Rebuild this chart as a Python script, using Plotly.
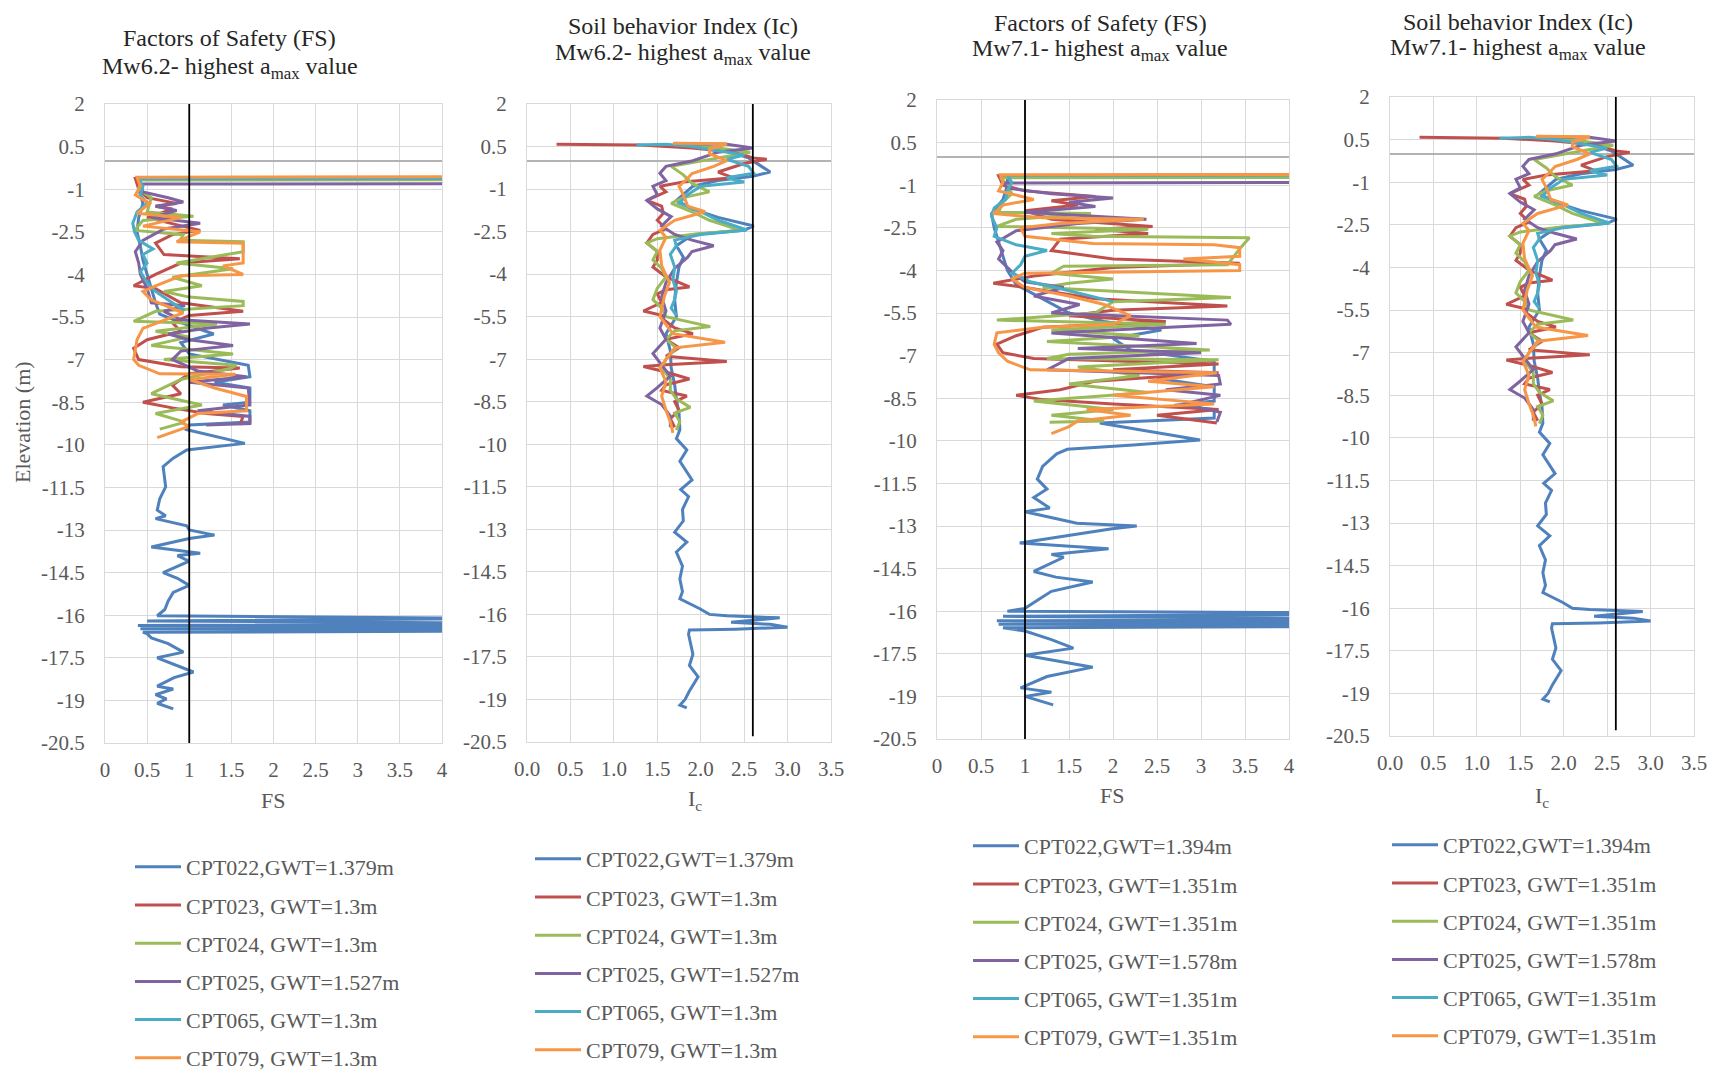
import plotly.graph_objects as go

W, H = 1719, 1070
PAGE_OFF = 8                      # browser default body margin
FIG_W, FIG_H = W - PAGE_OFF, H - PAGE_OFF
FONT = "Liberation Serif"

# ---------------- data ----------------
SERIES_COLORS = ["#4F81BD", "#C0504D", "#9BBB59", "#8064A2", "#4BACC6", "#F79646"]

LEGEND_MW62 = ["CPT022,GWT=1.379m", "CPT023, GWT=1.3m", "CPT024, GWT=1.3m",
               "CPT025, GWT=1.527m", "CPT065, GWT=1.3m", "CPT079, GWT=1.3m"]
LEGEND_MW71 = ["CPT022,GWT=1.394m", "CPT023, GWT=1.351m", "CPT024, GWT=1.351m",
               "CPT025, GWT=1.578m", "CPT065, GWT=1.351m", "CPT079, GWT=1.351m"]

Y_TICKS = [2, 0.5, -1, -2.5, -4, -5.5, -7, -8.5, -10, -11.5, -13, -14.5, -16, -17.5, -19, -20.5]
Y_TICK_TEXT = ["2", "0.5", "-1", "-2.5", "-4", "-5.5", "-7", "-8.5", "-10", "-11.5",
               "-13", "-14.5", "-16", "-17.5", "-19", "-20.5"]
FS_TICKS = [0, 0.5, 1, 1.5, 2, 2.5, 3, 3.5, 4]
FS_TICK_TEXT = ["0", "0.5", "1", "1.5", "2", "2.5", "3", "3.5", "4"]
IC_TICKS = [0, 0.5, 1, 1.5, 2, 2.5, 3, 3.5]
IC_TICK_TEXT = ["0.0", "0.5", "1.0", "1.5", "2.0", "2.5", "3.0", "3.5"]

FS_LIMIT = 1.0
IC_LIMIT = 2.6
ELEV_RANGE = [-20.5, 2]

# (elevation m, FS) -- Mw6.2
FS62_CPT022 = [(0.6, 5), (-0.6, 5), (-0.62, 0.42), (-1.0, 0.4), (-1.5, 0.45), (-2.0, 0.4), (-2.5, 0.38),
               (-3.0, 0.42), (-3.5, 0.45), (-4.0, 0.5), (-4.5, 0.55), (-5.0, 0.6), (-5.4, 0.65), (-5.7, 0.9),
               (-6.1, 1.29), (-6.4, 0.9), (-6.8, 1.0), (-7.2, 1.7), (-7.6, 1.72), (-7.8, 1.3), (-8.0, 1.72),
               (-8.5, 1.72), (-8.6, 1.4), (-8.8, 1.72), (-9.2, 1.72), (-9.3, 1.0), (-9.45, 0.95), (-9.7, 1.3),
               (-9.95, 1.66), (-10.18, 0.97), (-10.47, 0.81), (-10.77, 0.69), (-11.1, 0.7), (-11.48, 0.72),
               (-11.9, 0.65), (-12.3, 0.62), (-12.5, 0.72), (-12.6, 0.6), (-12.85, 0.97), (-13.0, 1.0),
               (-13.18, 1.3), (-13.3, 1.0), (-13.6, 0.55), (-13.82, 1.13), (-13.9, 0.86), (-14.1, 1.0),
               (-14.5, 0.69), (-14.7, 0.86), (-14.95, 1.0), (-15.2, 0.81), (-15.5, 0.75), (-15.8, 0.71),
               (-16.02, 0.62), (-16.1, 5), (-16.12, 5), (-16.2, 0.5), (-16.28, 5), (-16.32, 5), (-16.36, 0.39),
               (-16.4, 5), (-16.44, 5), (-16.48, 0.42), (-16.52, 5), (-16.56, 5), (-16.6, 0.45),
               (-16.65, 0.5), (-16.8, 0.55), (-17.0, 0.75),
               (-17.3, 0.93), (-17.5, 0.62), (-17.7, 0.8), (-18.0, 1.05), (-18.2, 0.82), (-18.5, 0.62),
               (-18.6, 0.81), (-18.8, 0.6), (-18.95, 0.73), (-19.1, 0.62), (-19.3, 0.81)]
FS62_CPT023 = [(0.6, 5), (-0.6, 5), (-0.62, 0.36), (-1.0, 0.4), (-1.3, 0.5), (-1.5, 0.85), (-1.6, 0.6),
               (-1.7, 0.8), (-2.0, 0.5), (-2.3, 0.9), (-2.45, 1.13), (-2.6, 0.8), (-2.9, 0.6), (-3.3, 0.7),
               (-3.45, 1.6), (-3.6, 0.9), (-4.0, 0.6), (-4.4, 0.34), (-4.5, 0.6), (-5.0, 0.9), (-5.3, 1.64),
               (-5.45, 1.0), (-5.7, 0.8), (-6.0, 0.9), (-6.3, 0.5), (-6.6, 0.34), (-7.0, 0.4), (-7.25, 0.9),
               (-7.3, 1.6), (-7.5, 1.0), (-7.9, 0.8), (-8.2, 0.9), (-8.5, 0.45), (-8.7, 0.8), (-8.9, 1.2),
               (-9.0, 1.64), (-9.3, 1.6)]
FS62_CPT024 = [(0.6, 5), (-0.66, 5), (-0.68, 0.42), (-1.0, 0.4), (-1.3, 0.55), (-1.8, 0.5), (-1.95, 1.05),
               (-2.1, 0.45), (-2.45, 0.35), (-2.6, 0.93), (-2.8, 0.89), (-2.85, 1.64), (-3.2, 1.64), (-3.6, 0.85),
               (-3.8, 1.52), (-4.1, 0.8), (-4.4, 1.15), (-4.6, 0.7), (-4.8, 1.0), (-4.95, 1.64), (-5.1, 1.64),
               (-5.3, 0.6), (-5.65, 0.34), (-5.75, 1.33), (-6.0, 0.6), (-6.2, 1.0), (-6.5, 0.55), (-6.8, 1.52),
               (-7.0, 0.7), (-7.2, 1.56), (-7.3, 1.5), (-7.7, 0.9), (-8.2, 0.55), (-8.6, 1.15), (-8.9, 0.6),
               (-9.2, 0.95), (-9.45, 0.65)]
FS62_CPT025 = [(0.6, 5), (-0.8, 5), (-0.82, 0.42), (-1.1, 0.45), (-1.3, 0.75), (-1.45, 0.93), (-1.6, 0.6),
               (-1.75, 0.85), (-2.0, 0.55), (-2.2, 1.13), (-2.4, 0.7), (-2.8, 0.45), (-3.2, 0.36), (-3.6, 0.4),
               (-4.0, 0.42), (-4.5, 0.5), (-5.0, 0.55), (-5.1, 0.95), (-5.3, 0.7), (-5.6, 0.9), (-5.75, 1.72),
               (-5.9, 1.2), (-6.1, 0.75), (-6.3, 1.0), (-6.5, 1.52), (-6.7, 0.9), (-7.0, 0.8), (-7.4, 1.1),
               (-7.6, 1.68), (-7.8, 1.0), (-8.0, 1.7), (-8.6, 1.72), (-8.8, 1.1), (-9.0, 1.72), (-9.25, 1.72),
               (-9.3, 1.2)]
FS62_CPT065 = [(0.6, 5), (-0.62, 5), (-0.64, 0.4), (-0.9, 0.45), (-1.2, 0.42), (-1.5, 0.5), (-1.8, 0.38),
               (-2.2, 0.33), (-2.5, 0.35), (-2.8, 0.4), (-3.1, 0.57), (-3.3, 0.45), (-3.6, 0.5), (-3.9, 0.42),
               (-4.3, 0.5), (-4.6, 0.6), (-4.9, 0.75), (-5.1, 0.85), (-5.25, 0.93), (-5.4, 0.9)]
FS62_CPT079 = [(0.6, 5), (-0.56, 5), (-0.58, 0.38), (-0.9, 0.42), (-1.2, 0.36), (-1.5, 0.53), (-1.85, 0.38),
               (-2.0, 0.9), (-2.3, 0.45), (-2.5, 1.13), (-2.85, 0.85), (-2.9, 1.64), (-3.6, 1.64), (-3.7, 1.4),
               (-4.0, 1.64), (-4.05, 0.9), (-4.4, 0.6), (-4.6, 0.45), (-4.9, 0.55), (-5.35, 0.93), (-5.9, 0.45),
               (-6.3, 0.38), (-7.0, 0.34), (-7.2, 0.4), (-7.5, 0.65), (-7.52, 1.55), (-7.7, 1.0), (-8.0, 1.3),
               (-8.3, 1.68), (-8.8, 1.68), (-8.9, 1.1), (-9.2, 0.9), (-9.35, 1.0), (-9.75, 0.62)]

# (elevation m, FS) -- Mw7.1
FS71_CPT022 = [(0.6, 5), (-0.64, 5), (-0.66, 0.8), (-1.0, 0.8), (-1.5, 0.75), (-2.0, 0.62), (-2.5, 0.65),
               (-3.0, 0.7), (-3.5, 0.75), (-4.0, 0.8), (-4.5, 0.9), (-5.0, 1.2), (-5.5, 1.5), (-5.8, 1.9),
               (-6.1, 2.55), (-6.4, 2.0), (-6.8, 2.2), (-7.2, 3.15), (-7.6, 3.15), (-7.8, 2.5), (-8.1, 3.15),
               (-8.6, 3.15), (-8.75, 2.7), (-8.9, 3.15), (-9.2, 3.15), (-9.37, 1.85), (-9.6, 2.3), (-9.97, 2.99),
               (-10.15, 2.23), (-10.3, 1.48), (-10.46, 1.36), (-10.9, 1.2), (-11.35, 1.14), (-11.7, 1.25),
               (-12.0, 1.1), (-12.37, 1.28), (-12.5, 1.0), (-12.9, 1.59), (-13.0, 2.27), (-13.1, 1.99),
               (-13.6, 0.94), (-13.8, 1.95), (-14.0, 1.3), (-14.1, 1.44), (-14.6, 1.1), (-14.8, 1.35),
               (-14.97, 1.77), (-15.3, 1.3), (-15.6, 1.15), (-15.9, 1.0), (-16.0, 0.8), (-16.06, 5),
               (-16.1, 5), (-16.18, 0.75), (-16.26, 5), (-16.3, 5), (-16.34, 0.68), (-16.38, 5), (-16.42, 5),
               (-16.46, 0.7), (-16.5, 5), (-16.54, 5), (-16.58, 0.75),
               (-16.7, 1.0), (-17.0, 1.3), (-17.3, 1.55), (-17.55, 1.0), (-17.97, 1.77),
               (-18.3, 1.25), (-18.7, 0.95), (-18.85, 1.3), (-19.0, 1.0), (-19.3, 1.32)]
FS71_CPT023 = [(0.6, 5), (-0.65, 5), (-0.67, 0.7), (-1.0, 0.75), (-1.2, 1.0), (-1.4, 1.8), (-1.55, 1.3),
               (-1.7, 1.6), (-1.9, 1.0), (-2.2, 1.3), (-2.45, 2.45), (-2.55, 1.8), (-2.7, 2.4), (-2.9, 1.4),
               (-3.3, 1.3), (-3.6, 2.0), (-3.75, 3.44), (-3.9, 2.0), (-4.2, 1.1), (-4.45, 0.64), (-4.6, 1.0),
               (-5.0, 1.8), (-5.25, 3.3), (-5.4, 2.0), (-5.6, 1.5), (-5.8, 2.6), (-6.0, 1.2), (-6.3, 0.9),
               (-6.6, 0.68), (-6.9, 0.75), (-7.1, 1.1), (-7.3, 3.2), (-7.5, 2.0), (-7.6, 3.2), (-7.9, 1.8),
               (-8.2, 1.4), (-8.4, 0.9), (-8.55, 1.2), (-8.7, 2.0), (-8.9, 3.2), (-9.1, 2.5), (-9.37, 3.18)]
FS71_CPT024 = [(0.6, 5), (-0.72, 5), (-0.74, 0.72), (-1.0, 0.8), (-1.3, 0.85), (-1.6, 0.75), (-1.95, 0.7),
               (-2.0, 1.75), (-2.2, 0.9), (-2.45, 0.68), (-2.55, 2.4), (-2.7, 1.3), (-2.8, 1.77), (-2.85, 3.55),
               (-3.2, 3.45), (-3.6, 3.35), (-3.8, 3.3), (-3.85, 1.44), (-4.1, 1.3), (-4.3, 2.0), (-4.45, 1.5),
               (-4.6, 1.2), (-4.95, 3.34), (-5.1, 2.0), (-5.5, 1.8), (-5.75, 0.68), (-5.9, 2.6), (-6.1, 1.3),
               (-6.3, 2.3), (-6.5, 1.25), (-6.8, 3.1), (-6.95, 1.5), (-7.1, 1.25), (-7.15, 3.2), (-7.4, 1.6),
               (-7.7, 2.3), (-8.0, 1.5), (-8.3, 2.4), (-8.6, 1.1), (-8.9, 2.0), (-9.1, 1.3), (-9.3, 1.9),
               (-9.35, 1.28)]
FS71_CPT025 = [(0.6, 5), (-0.9, 5), (-0.92, 0.75), (-1.1, 0.8), (-1.3, 1.3), (-1.45, 2.0), (-1.6, 1.5),
               (-1.75, 1.8), (-1.95, 1.0), (-2.2, 2.38), (-2.35, 1.6), (-2.6, 0.9), (-3.0, 0.68), (-3.3, 0.75),
               (-3.6, 0.7), (-4.1, 0.87), (-4.4, 1.0), (-4.6, 1.44), (-4.9, 1.1), (-5.2, 1.62), (-5.5, 1.3),
               (-5.75, 3.3), (-5.9, 3.34), (-6.1, 2.0), (-6.2, 1.3), (-6.57, 2.95), (-6.75, 1.6), (-6.9, 3.0),
               (-7.1, 1.5), (-7.5, 1.25), (-7.7, 3.2), (-8.0, 3.22), (-8.2, 2.6), (-8.4, 3.22), (-8.7, 2.8),
               (-9.0, 3.22), (-9.34, 3.18)]
FS71_CPT065 = [(0.6, 5), (-0.64, 5), (-0.66, 0.8), (-0.9, 0.85), (-1.2, 0.8), (-1.5, 0.78), (-1.8, 0.65),
               (-2.1, 0.62), (-2.5, 0.68), (-2.8, 0.65), (-3.1, 0.9), (-3.3, 1.25), (-3.5, 1.0), (-3.8, 0.95),
               (-4.1, 0.85), (-4.4, 1.06), (-4.6, 1.35), (-4.8, 1.6), (-4.95, 1.8), (-5.1, 2.0)]
FS71_CPT079 = [(0.6, 5), (-0.62, 5), (-0.63, 0.72), (-0.9, 0.75), (-1.2, 0.7), (-1.5, 1.1), (-1.7, 0.75),
               (-2.0, 0.64), (-2.15, 1.2), (-2.2, 2.35), (-2.35, 1.4), (-2.5, 0.95), (-2.8, 1.0), (-3.05, 1.77),
               (-3.1, 3.15), (-3.2, 3.44), (-3.5, 3.44), (-3.6, 2.8), (-3.8, 3.44), (-4.0, 3.44), (-4.1, 1.0),
               (-4.3, 0.85), (-4.6, 1.0), (-4.9, 1.5), (-5.2, 1.9), (-5.6, 2.2), (-5.9, 2.0), (-6.0, 1.2),
               (-6.2, 0.68), (-6.6, 0.65), (-6.9, 0.7), (-7.2, 0.8), (-7.5, 1.06), (-7.6, 3.18), (-7.9, 2.4),
               (-8.1, 3.15), (-8.4, 2.0), (-8.7, 3.15), (-8.9, 1.7), (-9.1, 2.2), (-9.3, 1.6), (-9.5, 1.5),
               (-9.75, 1.3)]

# (elevation m, Ic)
IC_CPT022 = [(0.62, 1.72), (0.45, 2.2), (0.2, 2.45), (0.1, 2.55), (-0.2, 2.7), (-0.4, 2.8), (-0.55, 2.6),
             (-0.7, 2.2), (-0.9, 1.91), (-1.2, 1.8), (-1.4, 1.72), (-1.7, 1.9), (-2.0, 2.2), (-2.3, 2.61),
             (-2.45, 2.5), (-2.6, 1.91), (-3.0, 1.72), (-3.4, 1.8), (-3.75, 1.75), (-4.3, 1.72), (-4.9, 1.7),
             (-5.5, 1.72), (-6.1, 1.6), (-6.7, 1.65), (-7.3, 1.66), (-7.9, 1.7), (-8.4, 1.72), (-8.9, 1.75),
             (-9.49, 1.76), (-9.8, 1.72), (-10.2, 1.84), (-10.6, 1.76), (-10.9, 1.82), (-11.26, 1.9),
             (-11.6, 1.77), (-11.85, 1.86), (-12.3, 1.79), (-12.7, 1.8), (-13.1, 1.7), (-13.45, 1.84),
             (-13.8, 1.72), (-14.3, 1.79), (-14.75, 1.76), (-15.2, 1.79), (-15.45, 1.76), (-15.8, 1.99),
             (-16.0, 2.1), (-16.05, 2.3), (-16.12, 2.91), (-16.2, 2.6), (-16.28, 2.35), (-16.35, 2.8),
             (-16.45, 3.0), (-16.52, 2.4), (-16.55, 1.87), (-16.7, 1.86), (-17.0, 1.88), (-17.4, 1.91),
             (-17.8, 1.87), (-18.2, 1.97), (-18.7, 1.87), (-19.0, 1.82), (-19.2, 1.76), (-19.3, 1.84)]
IC_CPT023 = [(0.58, 0.34), (0.55, 1.3), (0.45, 1.9), (0.3, 2.4), (0.1, 2.6), (0.05, 2.76), (-0.1, 2.5),
             (-0.4, 2.2), (-0.6, 2.37), (-0.75, 1.8), (-0.9, 1.53), (-1.1, 1.6), (-1.4, 1.38), (-1.6, 1.55),
             (-1.85, 1.57), (-2.1, 1.5), (-2.4, 1.6), (-2.6, 1.45), (-2.9, 1.38), (-3.2, 1.5), (-3.5, 1.5),
             (-3.75, 1.45), (-4.1, 1.6), (-4.45, 1.87), (-4.55, 1.6), (-4.7, 1.5), (-5.0, 1.55), (-5.3, 1.34),
             (-5.45, 1.55), (-5.6, 1.57), (-5.9, 1.7), (-6.1, 1.91), (-6.3, 1.6), (-6.6, 1.75), (-6.9, 1.6),
             (-7.08, 2.3), (-7.2, 1.6), (-7.26, 1.34), (-7.45, 1.6), (-7.7, 1.87), (-7.9, 1.6), (-8.1, 1.55),
             (-8.3, 1.84), (-8.5, 1.7), (-8.8, 1.75), (-9.1, 1.65), (-9.4, 1.7)]
IC_CPT024 = [(0.6, 1.72), (0.45, 2.2), (0.3, 2.57), (0.1, 2.2), (-0.2, 1.66), (-0.5, 1.8), (-0.8, 1.9),
             (-1.1, 2.1), (-1.3, 1.8), (-1.5, 1.66), (-1.8, 1.9), (-2.1, 2.1), (-2.45, 2.45), (-2.6, 1.9),
             (-2.75, 1.5), (-2.9, 1.38), (-3.2, 1.5), (-3.5, 1.45), (-3.8, 1.55), (-4.1, 1.6), (-4.5, 1.5),
             (-4.9, 1.45), (-5.2, 1.55), (-5.5, 1.6), (-5.85, 2.11), (-6.0, 1.7), (-6.3, 1.6), (-6.6, 1.72),
             (-7.0, 1.6), (-7.3, 1.55), (-7.7, 1.65), (-8.1, 1.65), (-8.4, 1.72), (-8.7, 1.88), (-8.9, 1.7),
             (-9.2, 1.76), (-9.5, 1.72)]
IC_CPT025 = [(0.6, 1.8), (0.58, 2.3), (0.45, 2.6), (0.3, 2.2), (0.0, 1.91), (-0.2, 1.6), (-0.44, 1.53),
             (-0.7, 1.6), (-0.9, 1.45), (-1.2, 1.5), (-1.4, 1.38), (-1.7, 1.5), (-1.97, 1.66), (-2.3, 1.55),
             (-2.6, 1.7), (-2.8, 1.9), (-3.0, 2.15), (-3.2, 1.9), (-3.4, 1.85), (-3.8, 1.7), (-4.3, 1.6),
             (-4.8, 1.55), (-5.3, 1.6), (-5.9, 1.53), (-6.3, 1.6), (-6.8, 1.45), (-7.2, 1.55), (-7.6, 1.65),
             (-8.0, 1.5), (-8.3, 1.38), (-8.6, 1.55), (-9.0, 1.65), (-9.4, 1.65)]
IC_CPT065 = [(0.55, 1.26), (0.58, 1.6), (0.5, 1.9), (0.35, 2.2), (0.2, 2.5), (0.05, 2.3), (-0.2, 2.55),
             (-0.44, 2.61), (-0.6, 2.3), (-0.75, 2.5), (-0.9, 2.0), (-1.2, 1.85), (-1.5, 1.75), (-1.8, 2.0),
             (-2.1, 2.2), (-2.44, 2.53), (-2.6, 2.0), (-2.8, 1.7), (-3.0, 1.72), (-3.3, 1.65), (-3.75, 1.7),
             (-4.2, 1.68), (-4.6, 1.72), (-4.9, 1.7), (-5.2, 1.66), (-5.45, 1.72)]
IC_CPT079 = [(0.62, 1.68), (0.6, 2.3), (0.4, 2.1), (0.25, 2.1), (0.0, 2.3), (-0.2, 2.15), (-0.45, 1.9),
             (-0.65, 1.84), (-0.9, 1.75), (-1.2, 1.8), (-1.6, 1.85), (-1.8, 2.05), (-2.1, 1.7), (-2.45, 1.53),
             (-2.7, 1.6), (-3.15, 1.53), (-3.7, 1.55), (-4.3, 1.64), (-4.8, 1.58), (-5.5, 1.53), (-6.1, 1.68),
             (-6.4, 2.28), (-6.6, 1.7), (-7.0, 1.6), (-7.3, 1.53), (-7.8, 1.6), (-8.3, 1.55), (-8.8, 1.6),
             (-9.2, 1.65), (-9.6, 1.68)]

FS62 = [FS62_CPT022, FS62_CPT023, FS62_CPT024, FS62_CPT025, FS62_CPT065, FS62_CPT079]
FS71 = [FS71_CPT022, FS71_CPT023, FS71_CPT024, FS71_CPT025, FS71_CPT065, FS71_CPT079]
IC = [IC_CPT022, IC_CPT023, IC_CPT024, IC_CPT025, IC_CPT065, IC_CPT079]

TITLES = [("Factors of Safety (FS)", "Mw6.2- highest a<sub>max</sub> value"),
          ("Soil behavior Index (Ic)", "Mw6.2- highest a<sub>max</sub> value"),
          ("Factors of Safety (FS)", "Mw7.1- highest a<sub>max</sub> value"),
          ("Soil behavior Index (Ic)", "Mw7.1- highest a<sub>max</sub> value")]
X_TITLES = ["FS", "I<sub>c</sub>", "FS", "I<sub>c</sub>"]

# ---------------- layout (page-pixel geometry) ----------------
PANELS = [
    dict(data=FS62, names=LEGEND_MW62, kind="fs", box=(105, 442, 104, 743), title_xy=(230, 38, 68),
         xt=(273, 800), legend=(130, 846)),
    dict(data=IC, names=LEGEND_MW62, kind="ic", box=(527, 831, 104, 742), title_xy=(683, 26, 54),
         xt=(695, 800), legend=(530, 838)),
    dict(data=FS71, names=LEGEND_MW71, kind="fs", box=(937, 1289, 100, 739), title_xy=(1100, 23, 50),
         xt=(1112, 795), legend=(968, 825)),
    dict(data=IC, names=LEGEND_MW71, kind="ic", box=(1390, 1694, 97, 736), title_xy=(1518, 22, 49),
         xt=(1542, 797), legend=(1387, 824)),
]

def px_x(p):
    return (p - PAGE_OFF) / FIG_W

def px_y(p):
    return 1 - (p - PAGE_OFF) / FIG_H

fig = go.Figure()
annotations = []
layout_axes = {}
TICK_FONT = dict(family=FONT, size=21, color="#595959")
GRID = "#d9d9d9"

for i, pan in enumerate(PANELS):
    n = i + 1
    xa = "x" if n == 1 else f"x{n}"
    ya = "y" if n == 1 else f"y{n}"
    leg = "legend" if n == 1 else f"legend{n}"
    x0, x1, y0, y1 = pan["box"]
    is_fs = pan["kind"] == "fs"

    for k, (series, name, color) in enumerate(zip(pan["data"], pan["names"], SERIES_COLORS)):
        elev = [p[0] for p in series]
        val = [p[1] for p in series]
        fig.add_trace(go.Scatter(
            x=val, y=elev, mode="lines", name=name, xaxis=xa, yaxis=ya,
            line=dict(color=color, width=3), legend=leg, legendgroup=f"{n}-{k}",
            hoverinfo="skip"))

    lim = FS_LIMIT if is_fs else IC_LIMIT
    fig.add_trace(go.Scatter(x=[lim, lim], y=[ELEV_RANGE[1], ELEV_RANGE[0] + (0 if is_fs else 0.2)],
                             mode="lines", line=dict(color="#000000", width=1.8),
                             xaxis=xa, yaxis=ya, showlegend=False, hoverinfo="skip"))

    xkey = "xaxis" if n == 1 else f"xaxis{n}"
    ykey = "yaxis" if n == 1 else f"yaxis{n}"
    layout_axes[xkey] = dict(
        domain=[px_x(x0), px_x(x1)], anchor=ya,
        range=[0, 4] if is_fs else [0, 3.5],
        tickvals=FS_TICKS if is_fs else IC_TICKS,
        ticktext=FS_TICK_TEXT if is_fs else IC_TICK_TEXT,
        showgrid=True, gridcolor=GRID, gridwidth=1.3, zeroline=False,
        showline=True, linecolor=GRID, linewidth=1.3, mirror=True,
        ticks="", tickfont=TICK_FONT, ticklabelstandoff=8, fixedrange=True, automargin=False)
    layout_axes[ykey] = dict(
        domain=[px_y(y1), px_y(y0)], anchor=xa,
        range=ELEV_RANGE, tickvals=Y_TICKS, ticktext=Y_TICK_TEXT,
        showgrid=True, gridcolor=GRID, gridwidth=1.3,
        zeroline=True, zerolinecolor="#b3b3b3", zerolinewidth=1.5,
        showline=True, linecolor=GRID, linewidth=1.3, mirror=True,
        ticks="", tickfont=TICK_FONT, ticklabelstandoff=15, fixedrange=True, automargin=False)

    tx, ty1, ty2 = pan["title_xy"]
    for txt, ty in zip(TITLES[i], (ty1, ty2)):
        annotations.append(dict(text=txt, x=px_x(tx), y=px_y(ty), xref="paper", yref="paper",
                                xanchor="center", yanchor="middle", showarrow=False,
                                font=dict(family=FONT, size=24, color="#262626")))
    ax_x, ax_y = pan["xt"]
    annotations.append(dict(text=X_TITLES[i], x=px_x(ax_x), y=px_y(ax_y), xref="paper", yref="paper",
                            xanchor="center", yanchor="middle", showarrow=False,
                            font=dict(family=FONT, size=22, color="#595959")))
    lx, ly = pan["legend"]
    layout_axes[leg] = dict(x=px_x(lx), y=px_y(ly), xanchor="left", yanchor="top",
                            bgcolor="rgba(0,0,0,0)", borderwidth=0, tracegroupgap=6.6,
                            itemwidth=46, font=dict(family=FONT, size=22, color="#595959"),
                            orientation="v")

annotations.append(dict(text="Elevation (m)", x=px_x(22), y=px_y(422), xref="paper", yref="paper",
                        xanchor="center", yanchor="middle", showarrow=False, textangle=-90,
                        font=dict(family=FONT, size=22, color="#595959")))

fig.update_layout(
    width=FIG_W, height=FIG_H, margin=dict(l=0, r=0, t=0, b=0, autoexpand=False),
    paper_bgcolor="white", plot_bgcolor="white",
    showlegend=True, annotations=annotations, font=dict(family=FONT),
    **layout_axes)

fig.write_html("out.html")
